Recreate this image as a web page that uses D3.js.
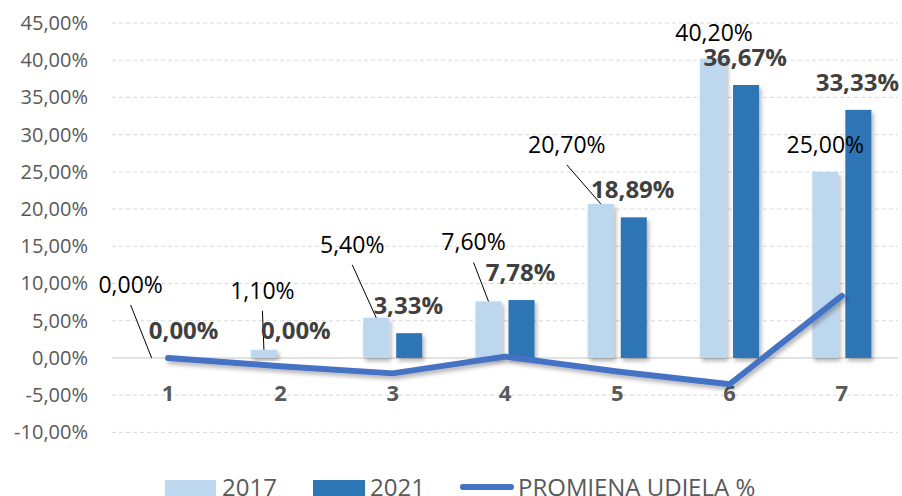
<!DOCTYPE html>
<html>
<head>
<meta charset="utf-8">
<script src="https://cdn.jsdelivr.net/npm/d3@7"></script>
<style>
  body { margin: 0; background: #fff; }
  text { font-family: "Open Sans", sans-serif; }
</style>
</head>
<body>
<div id="chart"></div>
<script>
// data
var categories = ["1", "2", "3", "4", "5", "6", "7"];
var values2017 = [0, 1.1, 5.4, 7.6, 20.7, 40.2, 25.0];
var values2021 = [0, 0, 3.33, 7.78, 18.89, 36.67, 33.33];
var promjena = [0, -1.1, -2.07, 0.18, -1.81, -3.53, 8.33];
var yTicks = [-10, -5, 0, 5, 10, 15, 20, 25, 30, 35, 40, 45];
var seriesNames = ["2017", "2021"];

// where the 2017 labels were dragged to (dx, dy from top of bar)
var labelShift17 = [[-21, -65], [-1.5, -51], [-24, -65], [-15, -51], [-34, -51], [1, -18], [0, -19]];

var W = 902, H = 496;
var fmt = function (v) { return v.toFixed(2).replace(".", ",") + "%"; };

var svg = d3.select("#chart").append("svg")
    .attr("width", W)
    .attr("height", H);

var defs = svg.append("defs");
defs.append("filter")
    .attr("id", "shadow")
    .attr("x", "-20%").attr("y", "-20%")
    .attr("width", "150%").attr("height", "150%")
  .append("feDropShadow")
    .attr("dx", 2).attr("dy", 3)
    .attr("stdDeviation", 2)
    .attr("flood-color", "#000")
    .attr("flood-opacity", 0.3);

var x = d3.scaleBand()
    .domain(categories)
    .range([112, 898]);

var bw = x.bandwidth();
var x1 = d3.scaleBand()
    .domain(seriesNames)
    .range([bw / 2 - 29.5, bw / 2 + 29.5])
    .paddingInner(0.212);

var y = d3.scaleLinear()
    .domain([-10, 45])
    .range([432.4, 23]);

// grid
svg.append("g")
  .selectAll("line")
  .data(yTicks.filter(function (t) { return t !== 0; }))
  .join("line")
    .attr("x1", 112).attr("x2", 898)
    .attr("y1", function (d) { return y(d); })
    .attr("y2", function (d) { return y(d); })
    .attr("stroke", "#D9D9D9")
    .attr("stroke-width", 1)
    .attr("stroke-dasharray", "4,3");

svg.append("line")
    .attr("x1", 112).attr("x2", 898)
    .attr("y1", y(0)).attr("y2", y(0))
    .attr("stroke", "#D9D9D9")
    .attr("stroke-width", 1.5);

// y axis labels
var yAxis = d3.axisLeft(y)
    .tickValues(yTicks)
    .tickFormat(fmt)
    .tickSize(0)
    .tickPadding(0);

var gy = svg.append("g")
    .attr("transform", "translate(88,0)")
    .call(yAxis);
gy.select(".domain").remove();
gy.selectAll("text")
    .attr("fill", "#595959")
    .attr("font-size", "20px")
    .attr("font-family", "Open Sans, sans-serif");

// bars
var colors = { "2017": "#BDD7EE", "2021": "#2E75B6" };
var rows = categories.map(function (c, i) {
  return { cat: c, i: i, v: { "2017": values2017[i], "2021": values2021[i] } };
});

var groups = svg.append("g")
  .selectAll("g")
  .data(rows)
  .join("g")
    .attr("transform", function (d) { return "translate(" + x(d.cat) + ",0)"; });

groups.selectAll("rect")
  .data(function (d) { return seriesNames.map(function (s) { return { s: s, v: d.v[s] }; }); })
  .join("rect")
    .attr("x", function (d) { return x1(d.s); })
    .attr("width", x1.bandwidth())
    .attr("y", function (d) { return y(Math.max(0, d.v)); })
    .attr("height", function (d) { return Math.abs(y(d.v) - y(0)); })
    .attr("fill", function (d) { return colors[d.s]; })
    .attr("filter", "url(#shadow)");

// category labels
svg.append("g")
  .selectAll("text")
  .data(categories)
  .join("text")
    .attr("x", function (d) { return x(d) + bw / 2; })
    .attr("y", 401)
    .attr("text-anchor", "middle")
    .attr("font-size", "22px")
    .attr("font-weight", "bold")
    .attr("fill", "#595959")
    .text(function (d) { return d; });

// change line
var line = d3.line()
    .x(function (d, i) { return x(categories[i]) + bw / 2; })
    .y(function (d) { return y(d); });

svg.append("path")
    .datum(promjena)
    .attr("d", line)
    .attr("fill", "none")
    .attr("stroke", "#4472C4")
    .attr("stroke-width", 6)
    .attr("stroke-linecap", "round")
    .attr("stroke-linejoin", "round")
    .attr("filter", "url(#shadow)");

// 2017 labels with leader lines
rows.forEach(function (d) {
  var bx = x(d.cat) + x1("2017") + x1.bandwidth() / 2;
  var by = y(d.v["2017"]);
  var sh = labelShift17[d.i];
  var lx = bx + sh[0], ly = by + sh[1];
  if (sh[1] < -30) {
    svg.append("line")
        .attr("x1", lx).attr("y1", ly + 12)
        .attr("x2", bx).attr("y2", by)
        .attr("stroke", "#000")
        .attr("stroke-width", 1);
  }
  svg.append("text")
      .attr("x", lx).attr("y", ly)
      .attr("text-anchor", "middle")
      .attr("font-size", "23px")
      .attr("fill", "#000")
      .text(fmt(d.v["2017"]));
});

// 2021 labels
svg.append("g")
  .selectAll("text")
  .data(rows)
  .join("text")
    .attr("x", function (d) { return x(d.cat) + x1("2021") + x1.bandwidth() / 2 - 1; })
    .attr("y", function (d) { return y(d.v["2021"]) - 19; })
    .attr("text-anchor", "middle")
    .attr("font-size", "24px")
    .attr("font-weight", "bold")
    .attr("fill", "#404040")
    .text(function (d) { return fmt(d.v["2021"]); });

// legend
var leg = svg.append("g");
leg.append("rect").attr("x", 165).attr("y", 480).attr("width", 51).attr("height", 20).attr("fill", colors["2017"]);
leg.append("text").attr("x", 222).attr("y", 496).attr("font-size", "24px").attr("fill", "#595959").text("2017");
leg.append("rect").attr("x", 313).attr("y", 480).attr("width", 52).attr("height", 20).attr("fill", colors["2021"]);
leg.append("text").attr("x", 370).attr("y", 496).attr("font-size", "24px").attr("fill", "#595959").text("2021");
leg.append("line")
    .attr("x1", 463).attr("x2", 511)
    .attr("y1", 487).attr("y2", 487)
    .attr("stroke", "#4472C4")
    .attr("stroke-width", 6)
    .attr("stroke-linecap", "round");
leg.append("text").attr("x", 518).attr("y", 496).attr("font-size", "24px").attr("fill", "#595959").text("PROMJENA UDJELA %");
</script>
</body>
</html>
